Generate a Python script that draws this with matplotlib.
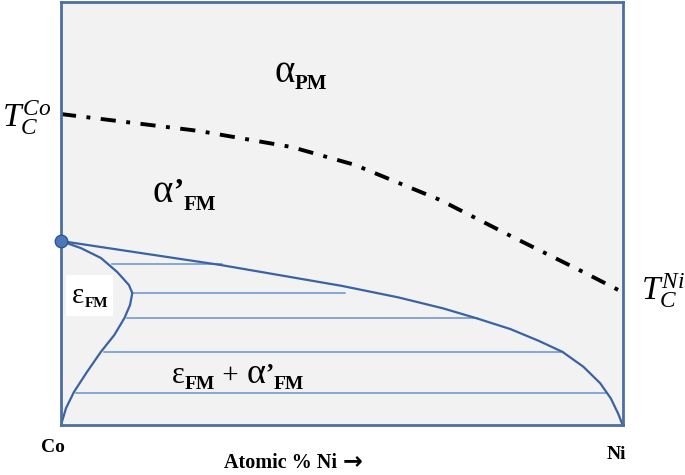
import matplotlib
matplotlib.use('Agg')

from matplotlib import pyplot as plt
from matplotlib import rc
from matplotlib.patches import Rectangle

# Curie temperature line (dash-dot), % Ni vs. temperature (arbitrary units)
curie_x = [0, 24.6, 41.1, 52.3, 67.5, 80.5, 93.4, 100]
curie_y = [73.5, 69.5, 65.7, 61.5, 53.2, 44.4, 35.9, 31.4]

# alpha' / (eps + alpha') boundary
upper_x = [0, 28.6, 50, 60, 68, 74.1, 80, 85, 89.3, 93, 96, 97.9, 99.2, 100]
upper_y = [43.5, 37.8, 32.9, 30.2, 27.6, 25.2, 22.7, 19.95, 17.3, 13.8, 9.9,
           6.3, 2.7, 0]

# eps / (eps + alpha') boundary
eps_x = [0, 3.6, 7.1, 10.0, 12.1, 12.7, 12.3, 11.3, 9.5, 7.1, 4.6, 2.3, 0.9, 0]
eps_y = [43.5, 41.8, 39.5, 36.2, 33.1, 31.2, 28.4, 25.3, 21.3, 17.3, 12.5,
         7.8, 4.0, 0]

# tie lines
tie_y = [38.0, 31.3, 25.2, 17.3, 7.5]
tie_x0 = [9.1, 12.9, 11.8, 7.7, 2.7]
tie_x1 = [28.6, 50.5, 74.1, 89.3, 97.0]

rc('mathtext', fontset='custom', rm='Liberation Serif',
   it='Liberation Serif:italic', bf='Liberation Serif:bold')
rc('font', family='Liberation Serif')

border = '#4d6f9f'
curve = '#3b63a3'
tie = '#6a93cc'

fig = plt.figure(figsize=(6.85, 4.75), dpi=100)
ax = fig.add_axes([0.089, 0.105, 0.820, 0.891])
ax.set_facecolor('#f2f2f2')
ax.set_xlim(0, 100)
ax.set_ylim(0, 100)
ax.set_xticks([])
ax.set_yticks([])
for s in ax.spines.values():
    s.set_color(border)
    s.set_linewidth(2)

for y, a, b in zip(tie_y, tie_x0, tie_x1):
    ax.plot([a, b], [y, y], color=tie, lw=1.1)

ax.plot(upper_x, upper_y, color=curve, lw=1.6, solid_joinstyle='round')
ax.plot(eps_x, eps_y, color=curve, lw=1.6, solid_joinstyle='round')
ax.plot(curie_x, curie_y, color='black', lw=2.8,
        linestyle=(0, (3.9, 2.7, 1.0, 2.7)), dash_capstyle='butt')
ax.plot([upper_x[0]], [upper_y[0]], 'o', ms=9, mfc='#4a78b8', mec='#2f5590',
        mew=1, clip_on=False, zorder=5)

renderer = fig.canvas.get_renderer()


def phase_label(x, y, parts, box=False, family='Liberation Serif'):
    # parts: (text, size, weight, baseline shift in points)
    off = 0.0
    boxes = []
    for part in parts:
        txt, size, weight, dy = part[:4]
        fam = part[4] if len(part) > 4 else family
        t = ax.annotate(txt, xy=(x, y), xytext=(off, dy),
                        textcoords='offset points', fontsize=size,
                        fontweight=weight, ha='left', va='baseline',
                        family=fam, annotation_clip=False, zorder=3)
        bb = t.get_window_extent(renderer)
        boxes.append(bb)
        off += bb.width * 72.0 / fig.dpi
    if box:
        inv = ax.transData.inverted()
        x0 = min(b.x0 for b in boxes) - 6
        x1 = max(b.x1 for b in boxes) + 5
        y0 = min(b.y0 for b in boxes) - 6
        y1 = max(b.y1 for b in boxes) + 8
        (dx0, dy0), (dx1, dy1) = inv.transform([(x0, y0), (x1, y1)])
        ax.add_patch(Rectangle((dx0, dy0), dx1 - dx0, dy1 - dy0,
                               facecolor='white', edgecolor='none',
                               zorder=2.5))


phase_label(38.0, 81.1, [('\u03b1', 28, 'normal', 0),
                         ('PM', 15, 'bold', -5)])
phase_label(16.3, 52.7, [('\u03b1', 28, 'normal', 0),
                         ('\u2019', 22, 'bold', 2),
                         ('FM', 15, 'bold', -6)])
phase_label(2.0, 28.8, [('\u03b5', 21, 'normal', 0),
                        ('FM', 11, 'bold', -3)], box=True)
phase_label(19.8, 9.9, [('\u03b5', 22, 'normal', 0),
                        ('FM', 14, 'bold', -4),
                        (' + ', 21, 'normal', 0),
                        ('\u03b1', 26, 'normal', 0),
                        ('\u2019', 18, 'bold', 2),
                        ('FM', 14, 'bold', -4)])

ax.text(-10.5, 72.6, r'$T_C^{Co}$', fontsize=24, ha='left', va='center',
        clip_on=False)
ax.text(103.2, 31.9, r'$T_C^{Ni}$', fontsize=24, ha='left', va='center',
        clip_on=False)

ax.text(-1.4, -5.4, 'Co', fontsize=14, fontweight='bold', ha='center',
        va='center', clip_on=False)
ax.text(98.9, -7.0, 'Ni', fontsize=14, fontweight='bold', ha='center',
        va='center', clip_on=False)
phase_label(29.1, -10.2, [('Atomic % Ni ', 14.5, 'bold', 0),
                          ('\u2192', 17, 'bold', 0, 'DejaVu Sans')])

fig.savefig('out.png', dpi=100)
